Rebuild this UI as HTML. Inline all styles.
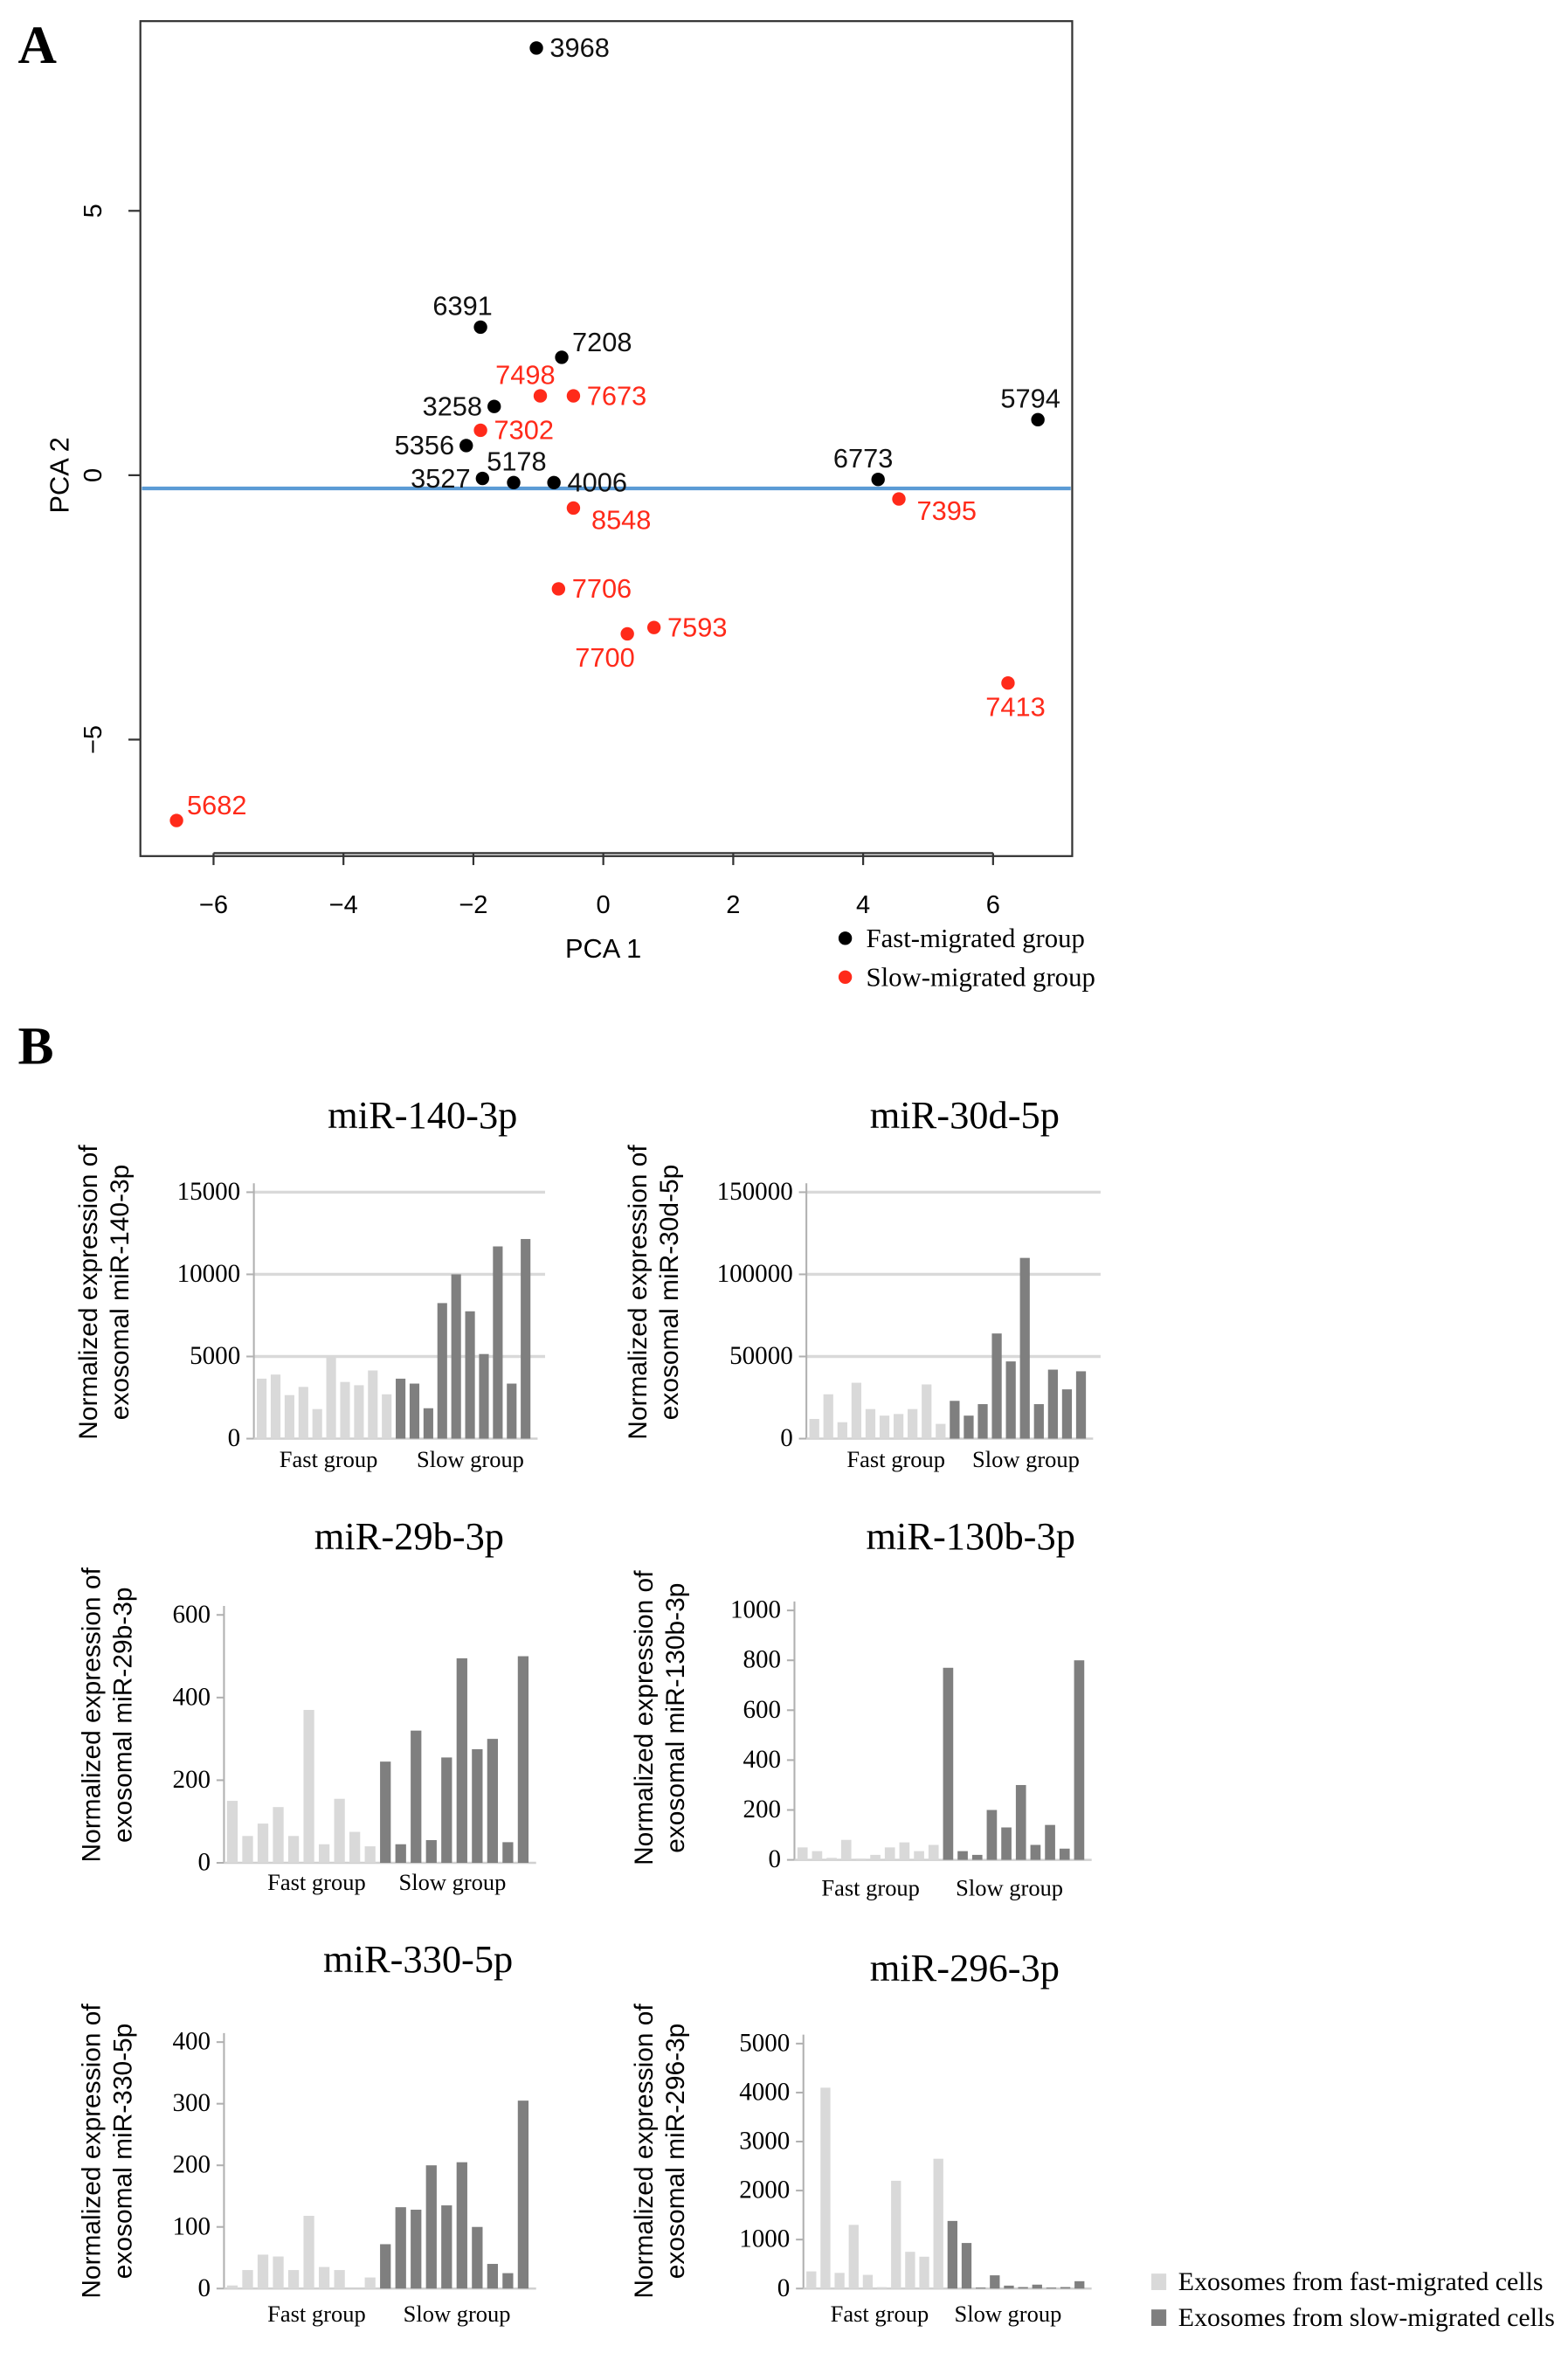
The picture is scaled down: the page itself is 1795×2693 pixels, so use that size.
<!DOCTYPE html>
<html><head><meta charset="utf-8"><style>html,body{margin:0;padding:0;background:#fff}svg{display:block}</style></head>
<body>
<svg id="fig" width="1795" height="2693" viewBox="0 0 1050 1575" xmlns="http://www.w3.org/2000/svg"></svg>
<script>
// ---- Panel A data ----
const pcaLabels = ["3968","6391","7208","7498","7673","3258","7302","5356","3527","5178","4006","6773","7395","5794","8548","7706","7700","7593","7413","5682"];
const pcaX = [-1.03,-1.89,-0.64,-0.97,-0.46,-1.68,-1.89,-2.11,-1.86,-1.38,-0.76,4.23,4.55,6.69,-0.46,-0.69,0.37,0.78,6.23,-6.57];
const pcaY = [8.08,2.8,2.23,1.5,1.5,1.3,0.85,0.56,-0.06,-0.14,-0.14,-0.08,-0.45,1.05,-0.62,-2.15,-3.0,-2.88,-3.93,-6.53];
const pcaGroup = ["fast","fast","fast","slow","slow","fast","slow","fast","fast","fast","fast","fast","slow","fast","slow","slow","slow","slow","slow","slow"];
const pcaLabelPos = ["r","t","rt","t","r","l","r","l","l","t","r","t","rb","t","rb","r","b","r","b","rt"];
const pcaXTicks = [-6,-4,-2,0,2,4,6];
const pcaYTicks = [-5,0,5];
const pcaCut = -0.25;

// ---- Panel B data ----
const chartTitles = ["miR-140-3p","miR-30d-5p","miR-29b-3p","miR-130b-3p","miR-330-5p","miR-296-3p"];
const fast140 = [3650,3900,2650,3150,1800,4950,3450,3250,4150,2700];
const slow140 = [3650,3350,1850,8250,10000,7750,5150,11700,3350,12150];
const fast30d = [12000,27000,10000,34000,18000,14000,15000,18000,33000,9000];
const slow30d = [23000,14000,21000,64000,47000,110000,21000,42000,30000,41000];
const fast29b = [150,65,95,135,65,370,45,155,75,40];
const slow29b = [245,45,320,55,255,495,275,300,50,500];
const fast130b = [50,35,8,80,5,20,50,70,35,60];
const slow130b = [770,35,20,200,130,300,60,140,45,800];
const fast330 = [5,30,55,52,30,118,35,30,0,18];
const slow330 = [72,132,128,200,135,205,100,40,25,305];
const fast296 = [350,4100,320,1300,280,30,2200,750,650,2650];
const slow296 = [1380,930,20,270,60,30,80,20,30,150];
const ticks140 = [0,5000,10000,15000];
const ticks30d = [0,50000,100000,150000];
const ticks29b = [0,200,400,600];
const ticks130b = [0,200,400,600,800,1000];
const ticks330 = [0,100,200,300,400];
const ticks296 = [0,1000,2000,3000,4000,5000];

const NS="http://www.w3.org/2000/svg";
const svg=document.getElementById('fig');
function mk(tag,attrs,parent,text){const e=document.createElementNS(NS,tag);for(const k in attrs)e.setAttribute(k,attrs[k]);if(text!==undefined)e.textContent=text;(parent||svg).appendChild(e);return e;}

// ---------- Panel A ----------
const gA=mk('g',{});


const lblA=mk('text',{x:12,y:42,'font-family':'Liberation Serif, serif','font-size':36,'font-weight':'bold'},svg,'A');


const box={l:94,r:718,t:14,b:573};
const sx=v=>404+v*43.5, sy=v=>318-v*35.4;
const frame=mk('rect',{x:box.l,y:box.t,width:box.r-box.l,height:box.b-box.t,fill:'none',stroke:'#333','stroke-width':1.3},gA);


const xax=mk('line',{x1:sx(pcaXTicks[0]),x2:sx(pcaXTicks[pcaXTicks.length-1]),y1:571,y2:571,stroke:'#333','stroke-width':1.3},gA);


pcaXTicks.forEach(t=>{
  mk('line',{x1:sx(t),x2:sx(t),y1:571,y2:579,stroke:'#333','stroke-width':1.3},gA);
  const tx=mk('text',{x:sx(t),y:611,'text-anchor':'middle','font-family':'Liberation Sans, sans-serif','font-size':17},gA,t<0?'\u2212'+(-t):String(t));
  
  
});
pcaYTicks.forEach(t=>{
  mk('line',{x1:box.l,x2:box.l-8,y1:sy(t),y2:sy(t),stroke:'#333','stroke-width':1.3},gA);
  const tx=mk('text',{x:0,y:0,'text-anchor':'middle','font-family':'Liberation Sans, sans-serif','font-size':17,transform:`translate(68,${sy(t)}) rotate(-90)`},gA,t<0?'\u2212'+(-t):String(t));
  
  
});
const xt=mk('text',{x:404,y:641,'text-anchor':'middle','font-family':'Liberation Sans, sans-serif','font-size':18},gA,'PCA 1');


const yt=mk('text',{x:0,y:0,'text-anchor':'middle','font-family':'Liberation Sans, sans-serif','font-size':18,transform:'translate(46,318) rotate(-90)'},gA,'PCA 2');


const cut=mk('line',{x1:box.l+1,x2:box.r-1,y1:sy(pcaCut),y2:sy(pcaCut),stroke:'#5b9bd5','stroke-width':2.5},gA);


pcaLabels.forEach((lab,i)=>{
  const cx=sx(pcaX[i]), cy=sy(pcaY[i]);
  const col=pcaGroup[i]==='fast'?'#000':'#ff2a1a';
  const c=mk('circle',{cx:cx,cy:cy,r:4.5,fill:col},gA);
  
  
  const p=pcaLabelPos[i]; let x=cx,y=cy+6,anc='start';
  if(p==='r'){x=cx+9;}
  else if(p==='rt'){x=cx+7;y=cy-4;}
  else if(p==='rb'){x=cx+12;y=cy+14;}
  else if(p==='l'){x=cx-8;anc='end';}
  else if(p==='t'){x=cx-10;y=cy-8;anc='middle';}
  else if(p==='b'){x=cx-15;y=cy+22;anc='middle';}
  if(p==='t'&&lab==='5178'){x=cx+2;}
  if(p==='t'&&lab==='5794'){x=cx-5;}
  if(p==='t'&&lab==='6391'){x=cx-12;}
  if(p==='b'&&lab==='7413'){x=cx+5;}
  const t=mk('text',{x:x,y:y,'text-anchor':anc,fill:pcaGroup[i]==='fast'?'#111':'#ff2a1a','font-family':'Liberation Sans, sans-serif','font-size':18},gA,lab);
  
  
});
[['#000','Fast-migrated group',628],['#ff2a1a','Slow-migrated group',654]].forEach(([c,l,y])=>{
  mk('circle',{cx:566,cy:y,r:4.5,fill:c},gA);
  const t=mk('text',{x:580,y:y+6,'font-family':'Liberation Serif, serif','font-size':18},gA,l);
  
  
});

// ---------- Panel B ----------
const lblB=mk('text',{x:12,y:712,'font-family':'Liberation Serif, serif','font-size':36,'font-weight':'bold'},svg,'B');


const LIGHT='#d9d9d9', DARK='#7f7f7f';
const charts=[
 {fast:fast140,slow:slow140,ticks:ticks140,ax:170,x1:358,y0:963,yTop:798,grid:true,titleX:283,titleY:755,ytx:65,yty:865,gl:[220,315],gy:982},
 {fast:fast30d,slow:slow30d,ticks:ticks30d,ax:540,x1:730,y0:963,yTop:798,grid:true,titleX:646,titleY:755,ytx:433,yty:865,gl:[600,687],gy:982},
 {fast:fast29b,slow:slow29b,ticks:ticks29b,ax:150,x1:357,y0:1247,yTop:1081,grid:false,titleX:274,titleY:1037,ytx:67,yty:1148,gl:[212,303],gy:1265},
 {fast:fast130b,slow:slow130b,ticks:ticks130b,ax:532,x1:729,y0:1245,yTop:1078,grid:false,titleX:650,titleY:1037,ytx:437,yty:1150,gl:[583,676],gy:1269},
 {fast:fast330,slow:slow330,ticks:ticks330,ax:150,x1:357,y0:1532,yTop:1367,grid:false,titleX:280,titleY:1320,ytx:67,yty:1440,gl:[212,306],gy:1554},
 {fast:fast296,slow:slow296,ticks:ticks296,ax:538,x1:729,y0:1532,yTop:1368,grid:false,titleX:646,titleY:1326,ytx:437,yty:1440,gl:[589,675],gy:1554}
];
charts.forEach((c,ci)=>{
  const g=mk('g',{});
  
  
  const maxT=c.ticks[c.ticks.length-1];
  const ys=v=>c.y0-(v/maxT)*(c.y0-c.yTop);
  const t=mk('text',{x:c.titleX,y:c.titleY,'text-anchor':'middle','font-family':'Liberation Serif, serif','font-size':26},g,chartTitles[ci]);
  
  
  const yt=mk('text',{x:0,y:0,'text-anchor':'middle','font-family':'Liberation Sans, sans-serif','font-size':17.5,transform:`translate(${c.ytx},${c.yty}) rotate(-90)`},g);
  
  
  mk('tspan',{x:0,dy:0},yt,'Normalized expression of');
  mk('tspan',{x:0,dy:21},yt,'exosomal '+chartTitles[ci]);
  c.ticks.forEach(tv=>{
    const y=ys(tv);
    if(c.grid&&tv>0) mk('line',{x1:c.ax,x2:c.x1+7,y1:y,y2:y,stroke:'#d9d9d9','stroke-width':2},g);
    mk('line',{x1:c.ax-5,x2:c.ax,y1:y,y2:y,stroke:'#b0b0b0','stroke-width':1.2},g);
    const l=mk('text',{x:c.ax-9,y:y+5,'text-anchor':'end','font-family':'Liberation Serif, serif','font-size':17},g,String(tv));
    
    
  });
  const ax=mk('line',{x1:c.ax,x2:c.ax,y1:c.yTop-6,y2:c.y0,stroke:'#b0b0b0','stroke-width':1.2},g);
  
  
  mk('line',{x1:c.ax,x2:c.x1+2,y1:c.y0,y2:c.y0,stroke:'#d0d0d0','stroke-width':1.5},g);
  const all=c.fast.concat(c.slow);
  const step=(c.x1-c.ax-2)/all.length;
  all.forEach((v,i)=>{
    const x=c.ax+2+i*step;
    const b=mk('rect',{x:x,y:ys(v),width:step*0.7,height:c.y0-ys(v),fill:i<c.fast.length?LIGHT:DARK},g);
    
    
  });
  ['Fast group','Slow group'].forEach((s,k)=>{
    const l=mk('text',{x:c.gl[k],y:c.gy,'text-anchor':'middle','font-family':'Liberation Serif, serif','font-size':15.5},g,s);
    
    
  });
});
[[LIGHT,'Exosomes from fast-migrated cells',1528],[DARK,'Exosomes from slow-migrated cells',1552]].forEach(([c,l,y])=>{
  mk('rect',{x:771,y:y-6,width:10,height:11,fill:c});
  const t=mk('text',{x:789,y:y+5,'font-family':'Liberation Serif, serif','font-size':17.5},svg,l);
  
  
});
</script>
</body></html>
